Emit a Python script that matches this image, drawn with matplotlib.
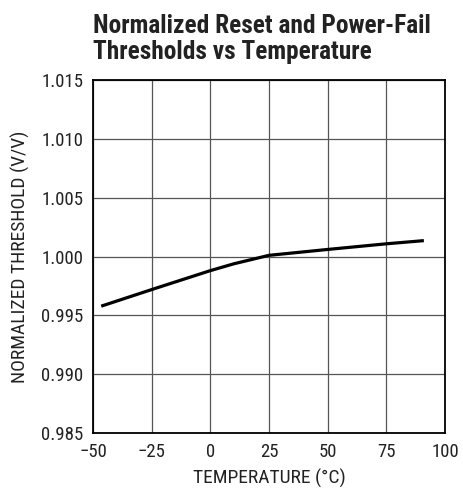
import matplotlib
matplotlib.use('Agg')
import matplotlib.pyplot as plt
from matplotlib import font_manager
from matplotlib.ticker import FixedLocator, FormatStrFormatter

# curve
temperature = [-46.5, -25, 0, 10, 25, 50, 75, 91]
threshold = [0.99578, 0.99719, 0.99880, 0.99938, 1.00010, 1.00060, 1.00108, 1.00135]

x_ticks = [-50, -25, 0, 25, 50, 75, 100]
y_ticks = [0.985, 0.990, 0.995, 1.000, 1.005, 1.010, 1.015]

title = 'Normalized Reset and Power-Fail\nThresholds vs Temperature'
x_label = 'TEMPERATURE (°C)'
y_label = 'NORMALIZED THRESHOLD (V/V)'


def pick_font():
    # a condensed face looks closest to the datasheet style; fall back if missing
    installed = {f.name for f in font_manager.fontManager.ttflist}
    for name in ['Roboto Condensed', 'Archivo Narrow', 'PT Sans Narrow']:
        if name in installed:
            return name, dict(title=18.3, tick=13.5, label=14, spacing=1.1)
    return 'Liberation Sans', dict(title=16.2, tick=12, label=11, spacing=1.0)


def initialize_figure():
    fig = plt.figure(figsize=(4.64, 4.90), dpi=100)
    ax = fig.add_axes([0.2004, 0.1163, 0.7586, 0.7204])
    return fig, ax


def plot_data(ax):
    ax.plot(temperature, threshold, color='black', linewidth=2.3,
            solid_capstyle='butt', zorder=3)


def set_axes(fig, ax, sizes):
    ax.set_xlim(-50, 100)
    ax.set_ylim(0.985, 1.015)
    ax.xaxis.set_major_locator(FixedLocator(x_ticks))
    ax.yaxis.set_major_locator(FixedLocator(y_ticks))
    ax.yaxis.set_major_formatter(FormatStrFormatter('%.3f'))
    ax.tick_params(length=0, labelsize=sizes['tick'], pad=7, colors='#222222')
    ax.grid(True, color='#555555', linewidth=0.9)
    for spine in ax.spines.values():
        spine.set_linewidth(1.3)
    ax.set_xlabel(x_label, fontsize=sizes['label'], labelpad=6, color='#222222')
    ax.set_ylabel(y_label, fontsize=sizes['label'], labelpad=8, color='#222222')
    fig.text(0.2004, 1 - 59 / 490, title, ha='left', va='baseline', fontsize=sizes['title'],
             fontweight='bold', linespacing=sizes['spacing'], color='#222222')


def main():
    font, sizes = pick_font()
    plt.rcParams['font.family'] = [font, 'DejaVu Sans']
    fig, ax = initialize_figure()
    plot_data(ax)
    set_axes(fig, ax, sizes)
    fig.savefig('out.png', dpi=100)


if __name__ == '__main__':
    main()
